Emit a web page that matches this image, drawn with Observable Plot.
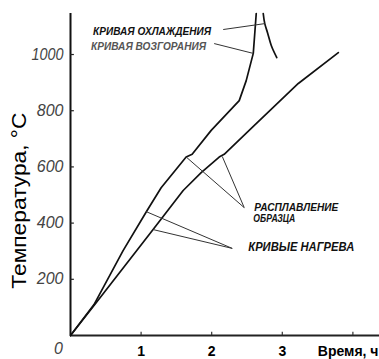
<!DOCTYPE html>
<html><head><meta charset="utf-8">
<script src="https://cdn.jsdelivr.net/npm/d3@7"></script>
<script src="https://cdn.jsdelivr.net/npm/@observablehq/plot@0.6"></script>
<style>
html,body{margin:0;padding:0;background:#fff;}
#chart{width:379px;height:359px;overflow:hidden;}
</style></head><body><div id="chart"></div>
<script>
// ---- data (time in hours, temperature in °C) ----
const upperTime  = [0, 0.333, 0.745, 1.085, 1.284, 1.638, 1.723, 1.993, 2.39, 2.489, 2.589, 2.61, 2.631];
const upperTemp  = [0, 110, 302, 445, 526, 635, 645, 730, 836, 907, 1004, 1075, 1146];
const lowerTime  = [0, 0.333, 1.17, 1.596, 1.851, 2.106, 2.177, 2.56, 3.227, 3.794];
const lowerTemp  = [0, 107, 377, 516, 580, 635, 645, 737, 897, 1007];
const coolTime   = [2.73, 2.752, 2.794, 2.844, 2.922];
const coolTemp   = [1146, 1110, 1075, 1032, 989];

const labelText  = ["КРИВАЯ ОХЛАЖДЕНИЯ", "КРИВАЯ ВОЗГОРАНИЯ", "РАСПЛАВЛЕНИЕ", "ОБРАЗЦА", "КРИВЫЕ НАГРЕВА"];
const labelTime  = [0.319, 0.291, 2.603, 2.59, 2.518];
const labelTemp  = [1082, 1028, 455, 416, 313];

// leader lines: start (time, temp) -> end (time, temp)
const leaderT1 = [2.163, 2.035, 1.64, 2.15, 1.071, 1.17];
const leaderY1 = [1089, 1039, 635, 637, 441, 377];
const leaderT2 = [2.752, 2.589, 2.461, 2.461, 2.291, 2.291];
const leaderY2 = [1110, 1004, 455, 455, 310, 310];

const yTicks = [200, 400, 600, 800, 1000];
const xTicks = [1, 2, 3, 4];
const xTickLabels = ["1", "2", "3"];
const xTitle = "Время, ч";
const yTitle = "Температура, °C";

const zip = (a, b) => a.map((v, i) => ({t: v, T: b[i]}));
const upper = zip(upperTime, upperTemp);
const lower = zip(lowerTime, lowerTemp);
const cool = zip(coolTime, coolTemp);
const labels = labelText.map((s, i) => ({s, t: labelTime[i], T: labelTemp[i]}));
const leaders = leaderT1.map((v, i) => ({t1: v, y1: leaderY1[i], t2: leaderT2[i], y2: leaderY2[i]}));

const X_MAX = 4.377, Y_MAX = 1146;
const font = "'Liberation Sans', Arial, sans-serif";

const plot = Plot.plot({
  width: 379, height: 359,
  marginLeft: 70, marginRight: 0, marginTop: 13, marginBottom: 24,
  style: {fontFamily: font, background: "#fff"},
  x: {domain: [0, X_MAX], axis: null},
  y: {domain: [0, Y_MAX], axis: null},
  marks: [
    // axes
    Plot.ruleX([0], {stroke: "#111", strokeWidth: 2}),
    Plot.ruleY([0], {stroke: "#222", strokeWidth: 2}),
    Plot.ruleY(yTicks, {x1: 0, x2: 0.055, stroke: "#222", strokeWidth: 1.2}),
    Plot.ruleX(xTicks, {y1: 0, y2: 12, stroke: "#333", strokeWidth: 1.2}),
    Plot.text(yTicks, {x: 0, y: d => d, text: d => String(d), textAnchor: "end", dx: -7,
      fontSize: 16, fontStyle: "italic", fill: "#444"}),
    Plot.text(["0"], {x: 0, y: 0, text: d => d, dx: -12, dy: 13, fontSize: 16, fontStyle: "italic", fill: "#444"}),
    Plot.text(xTickLabels, {x: d => +d, y: 0, text: d => d, dy: 16, fontSize: 14, fontWeight: "bold", fill: "#000"}),
    Plot.text([xTitle], {x: X_MAX, y: 0, text: d => d, textAnchor: "end", dx: -1, dy: 16, fontSize: 14, fontWeight: "bold", fill: "#000"}),
    Plot.text([yTitle], {x: 0, y: 480, text: d => d, rotate: -90, dx: -51, fontSize: 20, fill: "#000"}),
    // curves
    Plot.line(upper, {x: "t", y: "T", stroke: "#111", strokeWidth: 1.7}),
    Plot.line(lower, {x: "t", y: "T", stroke: "#111", strokeWidth: 1.7}),
    Plot.line(cool, {x: "t", y: "T", stroke: "#111", strokeWidth: 1.7, curve: "natural"}),
    // leaders
    Plot.link(leaders, {x1: "t1", y1: "y1", x2: "t2", y2: "y2", stroke: "#333", strokeWidth: 1}),
    // labels
    Plot.text(labels, {x: "t", y: "T", text: "s", textAnchor: "start", fontStyle: "italic", fontWeight: "bold",
      fontSize: d => d.s === "КРИВЫЕ НАГРЕВА" ? 12 : 11,
      fill: d => d.s === "КРИВАЯ ВОЗГОРАНИЯ" ? "#555" : "#111"})
  ]
});

const widths = {"КРИВАЯ ОХЛАЖДЕНИЯ": 118, "КРИВАЯ ВОЗГОРАНИЯ": 115, "РАСПЛАВЛЕНИЕ": 84, "ОБРАЗЦА": 42, "КРИВЫЕ НАГРЕВА": 106, "Температура, °C": 176, "1000": 32};
plot.querySelectorAll("text").forEach(el => {
  const w = widths[el.textContent];
  if (w) { el.setAttribute("textLength", w); el.setAttribute("lengthAdjust", "spacingAndGlyphs"); }
});
document.getElementById("chart").appendChild(plot);
</script></body></html>
